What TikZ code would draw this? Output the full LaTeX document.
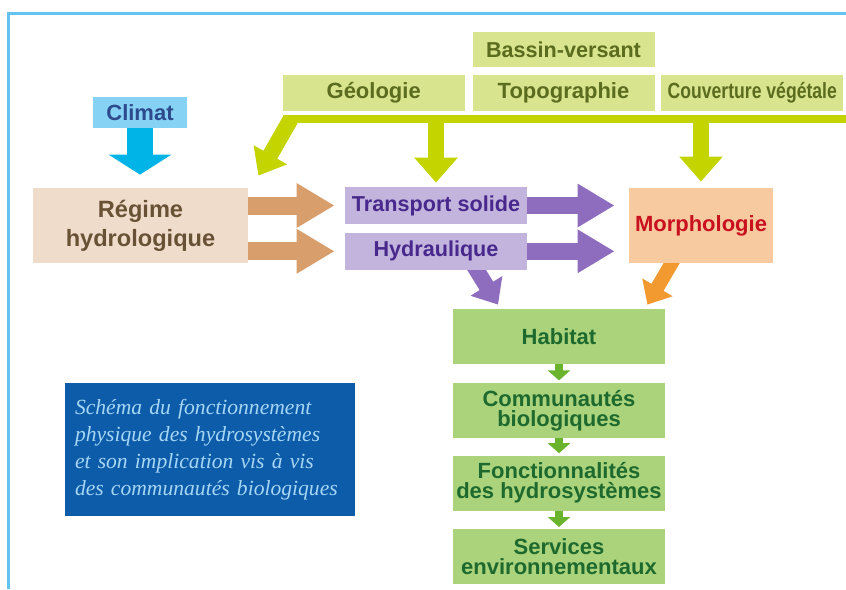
\documentclass[tikz,border=0pt]{standalone}
\usepackage{fontspec}
\setmainfont{Liberation Sans}
\newfontfamily\narrowfont[FakeStretch=0.8]{Liberation Sans}
\newfontfamily\legendfont{Liberation Serif}
\usetikzlibrary{arrows.meta,positioning,calc}
\pgfdeclarelayer{background}
\pgfsetlayers{background,main}
\definecolor{bvFill}{RGB}{216,228,142}
\definecolor{bvText}{RGB}{92,108,30}
\definecolor{bvBar}{RGB}{196,212,0}
\definecolor{climFill}{RGB}{134,210,244}
\definecolor{climText}{RGB}{44,74,140}
\definecolor{climArrow}{RGB}{0,180,232}
\definecolor{hydroFill}{RGB}{240,220,202}
\definecolor{hydroText}{RGB}{104,82,54}
\definecolor{hydroArrow}{RGB}{216,158,108}
\definecolor{physFill}{RGB}{194,180,221}
\definecolor{physText}{RGB}{72,40,140}
\definecolor{physArrow}{RGB}{142,108,190}
\definecolor{morphFill}{RGB}{248,202,160}
\definecolor{morphText}{RGB}{200,16,30}
\definecolor{morphArrow}{RGB}{242,154,48}
\definecolor{bioFill}{RGB}{170,211,124}
\definecolor{bioText}{RGB}{30,106,46}
\definecolor{bioArrow}{RGB}{106,180,45}
\definecolor{capFill}{RGB}{12,92,170}
\definecolor{capText}{RGB}{166,214,244}
\definecolor{frameBlue}{RGB}{100,195,238}

\begin{document}
\begin{tikzpicture}[x=0.5pt, y=-0.5pt,
    box/.style={rectangle, inner sep=0pt, align=center},
    bv/.style={box, fill=bvFill, text=bvText, minimum width=91pt, minimum height=18pt,
               font=\fontsize{11}{12}\selectfont\bfseries},
    phys/.style={box, fill=physFill, text=physText, minimum width=91pt, minimum height=18.5pt,
                 font=\fontsize{10.8}{12}\selectfont\bfseries},
    bio/.style={box, fill=bioFill, text=bioText, minimum width=106pt, minimum height=27.5pt,
                font=\fontsize{11}{10}\selectfont\bfseries},
    blk/.style={line width=#1},
    tanarr/.style={blk=9pt, hydroArrow, -{Triangle[length=19pt,width=21pt]}},
    purarr/.style={blk=8.5pt, physArrow, -{Triangle[length=18.5pt,width=20.5pt]}},
    grnarr/.style={blk=8pt, bvBar, -{Triangle[length=12.5pt,width=21pt]}},
    bioarr/.style={blk=4pt, bioArrow, -{Triangle[length=5pt,width=11pt]}}]

    \useasboundingbox (0,0) rectangle (846,589);
    \draw[frameBlue, line width=1.5pt] (846,13) -- (8,13) -- (8,589);

    % Bassin-versant
    \node[bv] (topo) at (563.5,93) {Topographie};
    \node[bv, above=3.5pt of topo, minimum height=17.5pt, font=\fontsize{10.8}{12}\selectfont\bfseries] (bassin) {Bassin-versant};
    \node[bv, left=3.5pt of topo] (geol) {Géologie};
    \node[bv, right=3pt of topo, font=\fontsize{11}{12}\narrowfont\bfseries] (couv) {Couverture végétale};
    \node[rectangle, inner sep=0pt, fill=bvBar, minimum width=281.5pt, minimum height=4pt] (barre) at (564.5,119) {};

    \node[box, fill=climFill, text=climText, minimum width=47pt, minimum height=15.5pt,
          font=\fontsize{11}{12}\selectfont\bfseries] (climat) at (140,112.5) {Climat};

    % Physique
    \node[box, fill=hydroFill, text=hydroText, minimum width=107.5pt, minimum height=37.5pt,
          font=\fontsize{11.8}{14.5}\selectfont\bfseries] (regime) at (140.5,225.5) {Régime\\hydrologique};
    \node[phys] (transport) at (436,205.5) {Transport solide};
    \node[phys, below=4pt of transport] (hydraul) {Hydraulique};
    \node[box, fill=morphFill, text=morphText, minimum width=72pt, minimum height=37.5pt,
          font=\fontsize{11}{12}\selectfont\bfseries] (morpho) at (701,225.5) {Morphologie};

    % Biologie
    \node[bio] (habitat) at (559,336.5) {Habitat};
    \node[bio, below=9pt of habitat] (commun) {Communautés\\biologiques};
    \node[bio, below=8.5pt of commun] (fonction) {Fonctionnalités\\des hydrosystèmes};
    \node[bio, below=9pt of fonction] (services) {Services\\environnementaux};

    \node[box, fill=capFill, text=capText, align=left, text width=135pt, inner xsep=5pt,
          minimum height=66.5pt, font=\fontsize{10.8}{13.5}\legendfont\itshape] (legende) at (210,449.5)
          {Schéma du fonctionnement\\physique des hydrosystèmes\\et son implication vis à vis\\des communautés biologiques};

    \begin{pgfonlayer}{background}
    \draw[blk=13pt, climArrow, -{Triangle[length=10pt,width=31pt]}, shorten >=6.5pt]
      (climat.south) -- (climat |- regime.north);
    \draw[grnarr, -{Triangle[length=12pt,width=18.5pt]}]
      ([xshift=4pt,yshift=2pt]barre.south west) -- ([shift={(5pt,6pt)}]regime.north east);
    \draw[grnarr] (barre.south -| transport.north) -- ([yshift=2pt]transport.north);
    \draw[grnarr] (barre.south -| morpho.north) -- ([yshift=3pt]morpho.north);

    \draw[tanarr, shorten >=5pt] (regime.east |- transport) -- (transport);
    \draw[tanarr, shorten >=5pt] (regime.east |- hydraul) -- (hydraul);
    \draw[purarr, shorten >=7pt] (transport.east) -- (transport -| morpho.west);
    \draw[purarr, shorten >=7pt] (hydraul.east) -- (hydraul -| morpho.west);

    \draw[blk=8pt, physArrow, -{Triangle[length=11pt,width=18pt]}]
      ([xshift=18.5pt,yshift=3pt]hydraul.south) -- ([shift={(-30.5pt,2pt)}]habitat.north);
    \draw[blk=7pt, morphArrow, -{Triangle[length=10pt,width=17pt]}]
      ([xshift=-13pt,yshift=3pt]morpho.south) -- ([shift={(-9pt,2pt)}]habitat.north east);

    \draw[bioarr, shorten >=1pt] (habitat) -- (commun);
    \draw[bioarr, shorten >=1pt] (commun) -- (fonction);
    \draw[bioarr, shorten >=1pt] (fonction) -- (services);
    \end{pgfonlayer}

\end{tikzpicture}
\end{document}
